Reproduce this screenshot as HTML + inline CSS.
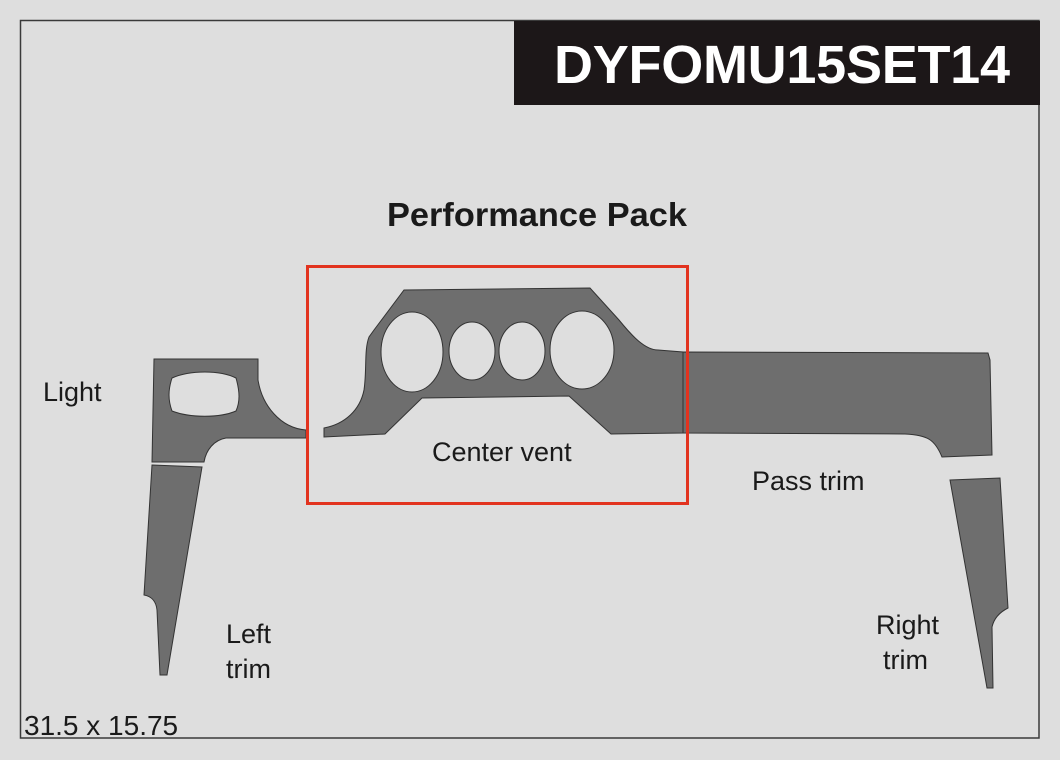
<!DOCTYPE html>
<html><head><meta charset="utf-8"><style>
html,body{margin:0;padding:0;background:#dedede;}
svg{display:block;}
text{font-family:"Liberation Sans",Arial,sans-serif;fill:#1a1a1a;}
</style></head><body>
<svg width="1060" height="760" viewBox="0 0 1060 760" xmlns="http://www.w3.org/2000/svg">
<rect x="0" y="0" width="1060" height="760" fill="#dedede"/>
<rect x="20.5" y="20.5" width="1018.5" height="717.5" fill="#dedede" stroke="#3a3a3a" stroke-width="1.5"/>
<rect x="514" y="21" width="526" height="84" fill="#1c1718"/>
<text x="554" y="83" font-size="54" font-weight="bold" style="fill:#fff" textLength="456" lengthAdjust="spacing">DYFOMU15SET14</text>
<text x="537" y="226" font-size="33" font-weight="bold" text-anchor="middle" textLength="300" lengthAdjust="spacingAndGlyphs">Performance Pack</text>

<g fill="#6e6e6e" stroke="#333" stroke-width="1">
<path d="M154 359 L258 359 L258 380 C262 405 280 428 306 430 L306 438 L226 438 C214 440 206 450 204 462 L152 462 Z"/>
<path d="M152 465 L202 467 L167 675 L160 675 L157 610 C156 600 150 596 144 595 L152 465 Z"/>
<path d="M404 290 L590 288 L619 320 C632 336 645 350 658 350 L683 352 L683 433 L611 434 L569 396 L422 398 L385 434 L324 437 L324 428 C345 424 360 410 364 390 C367 370 364 350 369 337 L374 330 Z"/>
<path d="M683 352 L988 353 L990 360 L992 455 L942 457 C935 440 928 435 905 434 L683 433 Z"/>
<path d="M950 480 L1000 478 L1008 608 C1000 612 994 618 992 627 L993 688 L987 688 Z"/>
</g>
<g fill="#dedede" stroke="#333" stroke-width="1">
<path d="M172 378 C190 370 220 370 236 378 C240 392 240 402 236 411 C220 418 190 418 172 411 C168 400 168 390 172 378 Z"/>
<ellipse cx="412" cy="352" rx="31" ry="40"/>
<ellipse cx="472" cy="351" rx="23" ry="29"/>
<ellipse cx="522" cy="351" rx="23" ry="29"/>
<ellipse cx="582" cy="350" rx="32" ry="39"/>
</g>
<rect x="307.5" y="266.5" width="380" height="237" fill="none" stroke="#e2331f" stroke-width="3"/>

<text x="43" y="401" font-size="27">Light</text>
<text x="432" y="461" font-size="27">Center vent</text>
<text x="752" y="490" font-size="27">Pass trim</text>
<text x="226" y="643" font-size="27">Left</text>
<text x="226" y="678" font-size="27">trim</text>
<text x="876" y="634" font-size="27">Right</text>
<text x="883" y="669" font-size="27">trim</text>
<text x="24" y="735" font-size="28">31.5 x 15.75</text>
</svg>
</body></html>
